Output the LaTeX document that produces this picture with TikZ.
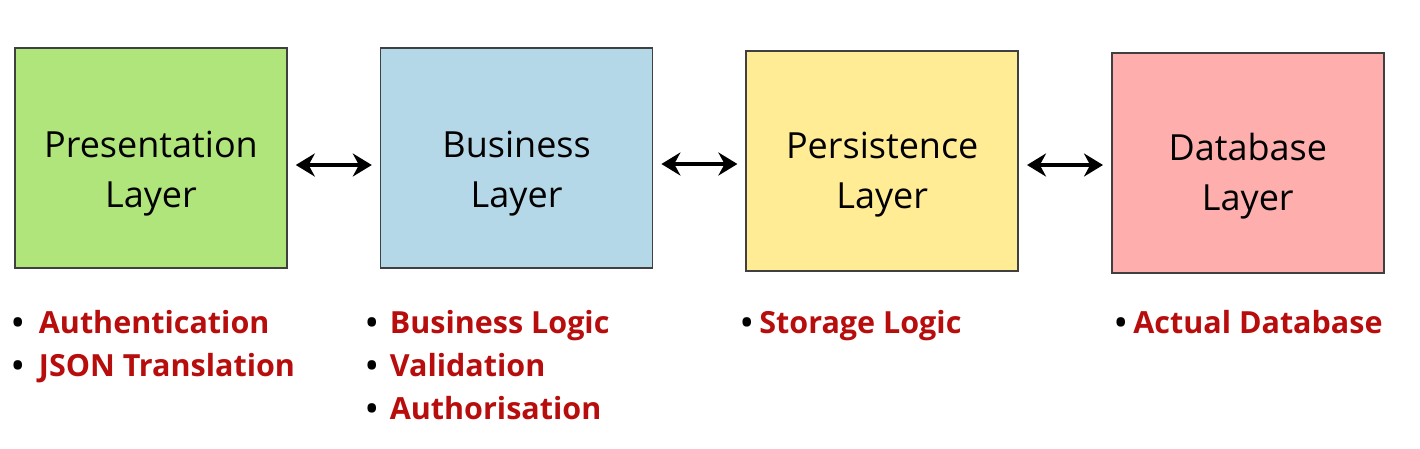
\documentclass[tikz,border=0pt]{standalone}
\usepackage{fontspec}
\setmainfont{Open Sans}
\usetikzlibrary{arrows.meta, positioning}
\definecolor{presgreen}{HTML}{B0E57C}
\definecolor{busblue}{HTML}{B4D8E7}
\definecolor{persyellow}{HTML}{FFEC94}
\definecolor{dbpink}{HTML}{FFAEAE}
\definecolor{notered}{HTML}{B80D0D}
\tikzset{
  layer/.style = {rectangle, draw=black!75, line width=1.6pt, minimum width=272pt, minimum height=220pt, inner sep=0pt},
  caption/.style = {align=center, inner sep=0pt, font=\fontsize{36}{50}\selectfont},
  link/.style = {line width=3.2pt, {Stealth[length=19pt,width=23pt]}-{Stealth[length=19pt,width=23pt]}, shorten <=8pt, shorten >=8pt},
  notes/.style = {align=left, anchor=north west, inner sep=0pt, font=\fontsize{30.5}{43}\selectfont\bfseries}
}
\newcommand{\bitem}[2][0.5em]{\textbullet\hspace{#1}\textcolor{notered}{#2}}

\begin{document}
\begin{tikzpicture}[x=1pt, y=-1pt]
  \useasboundingbox (0,0) rectangle (1420,448);
  % Schichten
  \node[layer, fill=presgreen] (pres) at (151,158) {};
  \node[layer, fill=busblue, right=92pt of pres] (bus) {};
  \node[layer, fill=persyellow, right=92pt of bus, yshift=-3pt] (pers) {};
  \node[layer, fill=dbpink, right=92pt of pers, yshift=-2pt] (db) {};

  \node[caption] (preslabel) at ([yshift=-16pt]pres.center) {Presentation\\Layer};
  \node[caption] (buslabel) at ([yshift=-16pt]bus.center) {Business\\Layer};
  \node[caption] (perslabel) at ([yshift=-14pt]pers.center) {Persistence\\Layer};
  \node[caption] (dblabel) at ([yshift=-13pt]db.center) {Database\\Layer};

  % Aufgaben
  \node[notes] (presnotes) at (12,310) {\bitem{Authentication}\\\bitem{JSON Translation}};
  \node[notes] (busnotes) at (366,310) {\bitem[0.4em]{Business Logic}\\\bitem[0.4em]{Validation}\\\bitem[0.4em]{Authorisation}};
  \node[notes] (persnotes) at (741,310) {\bitem[0.22em]{Storage Logic}};
  \node[notes] (dbnotes) at (1115,310) {\bitem[0.22em]{Actual Database}};

  % Verbindungen
  \draw[link] ([yshift=-7pt]pres.east) -- ([yshift=-7pt]pres.east -| bus.west);
  \draw[link] ([yshift=-6pt]bus.east) -- ([yshift=-6pt]bus.east -| pers.west);
  \draw[link] ([yshift=-4pt]pers.east) -- ([yshift=-4pt]pers.east -| db.west);
\end{tikzpicture}
\end{document}
